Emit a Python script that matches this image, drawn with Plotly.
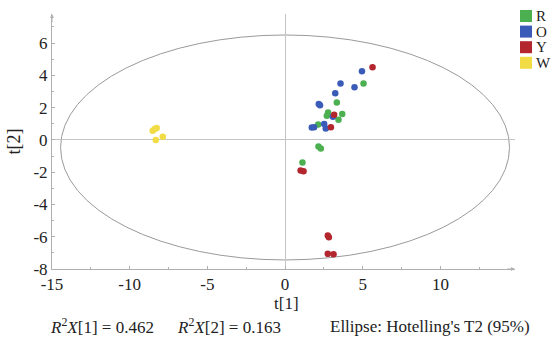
import plotly.graph_objects as go

categories = ["R", "O", "Y", "W"]
colors = ["#4caf50", "#3a5cb8", "#b3262e", "#f2dc46"]

r_t1 = [5.05, 3.33, 2.77, 3.68, 2.69, 3.44, 2.13, 2.15, 2.30, 1.12]
r_t2 = [3.49, 2.31, 1.69, 1.61, 1.49, 1.24, 0.95, -0.41, -0.54, -1.40]

o_t1 = [4.95, 3.57, 4.47, 3.23, 2.17, 2.25, 3.08, 2.52, 1.72, 1.87, 2.62]
o_t2 = [4.26, 3.49, 3.26, 2.89, 2.22, 2.15, 1.44, 0.99, 0.76, 0.78, 0.70]

y_t1 = [5.63, 3.16, 2.95, 1.00, 1.19, 2.75, 2.82, 2.75, 3.12]
y_t2 = [4.50, 1.55, 0.79, -1.89, -1.95, -5.93, -6.04, -7.06, -7.08]

w_t1 = [-8.52, -8.39, -8.26, -8.32, -7.87]
w_t2 = [0.56, 0.68, 0.74, 0.00, 0.19]

series_x = [r_t1, o_t1, y_t1, w_t1]
series_y = [r_t2, o_t2, y_t2, w_t2]

x_ticks = [-15, -10, -5, 0, 5, 10]
x_ticktext = ["-15", "-10", "-5", "0", "5", "10"]
y_ticks = [-8, -6, -4, -2, 0, 2, 4, 6]
y_ticktext = ["-8", "-6", "-4", "-2", "0", "2", "4", "6"]

ellipse_cx, ellipse_cy = 0.0, -0.47
ellipse_a, ellipse_b = 14.45, 6.97

stats_text = ["<i>R</i><sup>2</sup><i>X</i>[1] = 0.462",
              "<i>R</i><sup>2</sup><i>X</i>[2] = 0.163",
              "Ellipse: Hotelling's T2 (95%)"]

FONT = "Liberation Serif"
GRAY = "#b0b0b0"
TXT = "#222"

fig = go.Figure()
for name, xs, ys, c in zip(categories, series_x, series_y, colors):
    fig.add_trace(go.Scatter(x=xs, y=ys, mode="markers", name=name,
                             marker=dict(color=c, size=6.5, line=dict(width=0)),
                             showlegend=False))

fig.add_shape(type="circle", xref="x", yref="y",
              x0=ellipse_cx - ellipse_a, x1=ellipse_cx + ellipse_a,
              y0=ellipse_cy - ellipse_b, y1=ellipse_cy + ellipse_b,
              line=dict(color="#9a9a9a", width=1), layer="below")

# custom legend
for i, (name, c) in enumerate(zip(categories, colors)):
    top = 10 + i * 15.6
    fig.add_shape(type="rect", xref="paper", yref="paper",
                  x0=(520 - 52) / 463, x1=(532 - 52) / 463,
                  y0=(269 - (top + 12)) / 255, y1=(269 - top) / 255,
                  line=dict(width=0), fillcolor=c)
    fig.add_annotation(xref="paper", yref="paper", x=(535 - 52) / 463,
                       y=(269 - (top + 6)) / 255, text=name, showarrow=False,
                       xanchor="left", yanchor="middle", borderpad=0,
                       font=dict(family=FONT, size=15, color=TXT))

# axis arrows
fig.add_annotation(x=14.8, y=-8, ax=14.2, ay=-8, xref="x", yref="y", axref="x", ayref="y",
                   text="", showarrow=True, arrowhead=2, arrowsize=0.8, arrowwidth=1,
                   arrowcolor=GRAY)
fig.add_annotation(x=-15, y=7.8, ax=-15, ay=7.2, xref="x", yref="y", axref="x", ayref="y",
                   text="", showarrow=True, arrowhead=2, arrowsize=0.8, arrowwidth=1,
                   arrowcolor=GRAY)

# x axis title
fig.add_annotation(xref="paper", yref="paper", x=(286 - 52) / 463, y=(269 - 303) / 255,
                   text="t[1]", showarrow=False, xanchor="center", yanchor="middle",
                   borderpad=0, font=dict(family=FONT, size=17, color=TXT))

# bottom stats
stat_x = [48, 175, 430]
stat_anchor = ["left", "left", "center"]
for sx, t, an in zip(stat_x, stats_text, stat_anchor):
    fig.add_annotation(xref="paper", yref="paper", x=(sx - 52) / 463, y=(269 - 326) / 255,
                       text=t, showarrow=False, xanchor=an, yanchor="middle",
                       font=dict(family=FONT, size=17, color=TXT))

fig.update_xaxes(range=[-15, 14.8], tickvals=x_ticks, ticktext=x_ticktext,
                 ticks="inside", ticklen=3,
                 tickcolor=GRAY, showline=True, linecolor=GRAY, linewidth=1,
                 showgrid=False, zeroline=True, zerolinecolor="#c4c4c4", zerolinewidth=1,
                 minor=dict(dtick=2.5, tick0=0, ticks="inside", ticklen=2, tickcolor=GRAY),
                 tickfont=dict(family=FONT, size=17, color=TXT))
fig.update_yaxes(range=[-8, 7.8], tickvals=y_ticks, ticktext=y_ticktext,
                 ticks="inside", ticklen=3,
                 tickcolor=GRAY, showline=True, linecolor=GRAY, linewidth=1,
                 showgrid=False, zeroline=True, zerolinecolor="#c4c4c4", zerolinewidth=1,
                 minor=dict(dtick=1, tick0=0, ticks="inside", ticklen=2, tickcolor=GRAY),
                 title=dict(text="t[2]", font=dict(family=FONT, size=18, color=TXT), standoff=8),
                 tickfont=dict(family=FONT, size=17, color=TXT))

fig.update_layout(width=554, height=342, margin=dict(l=52, r=39, t=14, b=73),
                  plot_bgcolor="white", paper_bgcolor="white",
                  font=dict(family=FONT, size=18, color=TXT))

fig.write_html("out.html")
